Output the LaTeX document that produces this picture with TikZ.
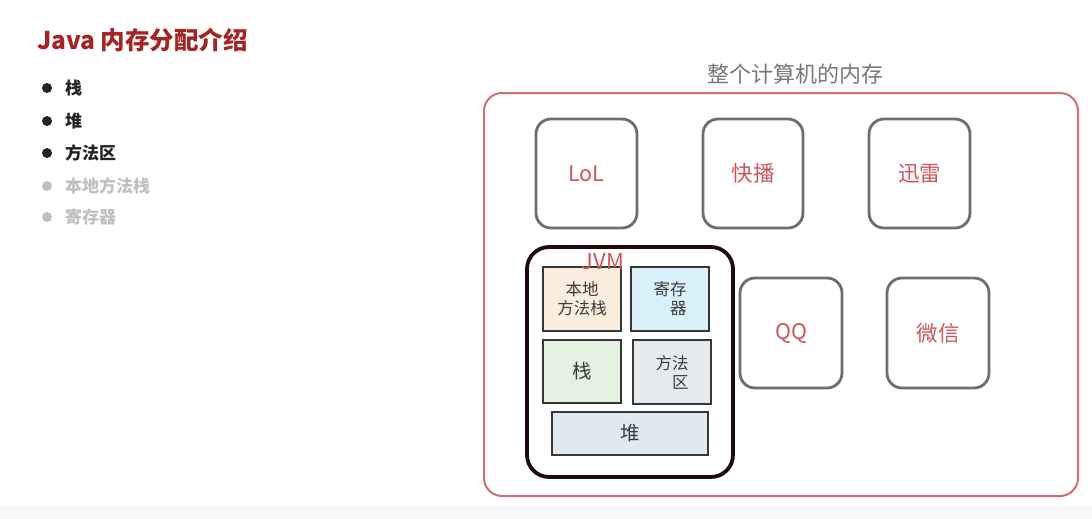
\documentclass[tikz,border=0pt]{standalone}
\usepackage{fontspec}
\setmainfont{Noto Sans CJK SC}
\begin{document}
\begin{tikzpicture}[x=1pt,y=-1pt,
  every node/.style={inner sep=0pt,outer sep=0pt},
  titlered/.style={text=titleC,font=\fontsize{24.5}{28}\selectfont\bfseries},
  bulletdot/.style={circle,minimum size=10pt},
  bullettext/.style={anchor=west,font=\fontsize{17}{20}\selectfont\bfseries},
  appbox/.style={draw=appC,line width=2.8pt,rounded corners=15pt,text=labelC,font=\fontsize{21.5}{24}\selectfont},
  membox/.style={draw=memC,line width=2pt,rounded corners=18pt},
  jvmbox/.style={draw=jvmC,line width=3.8pt,rounded corners=22pt},
  partbox/.style={draw=partC,line width=2pt,text=partT,font=\fontsize{16.5}{19}\selectfont,align=center}
]
\definecolor{titleC}{RGB}{165,35,35}
\definecolor{darkB}{RGB}{35,35,35}
\definecolor{lightB}{RGB}{192,192,192}
\definecolor{headC}{RGB}{120,120,120}
\definecolor{memC}{RGB}{210,110,115}
\definecolor{appC}{RGB}{110,110,110}
\definecolor{labelC}{RGB}{205,85,90}
\definecolor{jvmC}{RGB}{30,10,10}
\definecolor{partC}{RGB}{55,55,55}
\definecolor{partT}{RGB}{60,60,60}
\definecolor{fillA}{RGB}{252,238,222}
\definecolor{fillB}{RGB}{218,240,250}
\definecolor{fillC}{RGB}{228,242,226}
\definecolor{fillD}{RGB}{228,234,238}
\definecolor{fillE}{RGB}{222,233,240}
\definecolor{bandC}{RGB}{248,248,248}
\useasboundingbox (0,0) rectangle (1092,519);
\fill[white] (0,0) rectangle (1092,519);
\fill[bandC] (0,505) rectangle (1092,519);

% title and list
\node[titlered,anchor=west] (title) at (37,40) {Java 内存分配介绍};
\node[bulletdot,fill=darkB] (d1) at (47,88) {};
\node[bulletdot,fill=darkB] (d2) at (47,121) {};
\node[bulletdot,fill=darkB] (d3) at (47,153) {};
\node[bulletdot,fill=lightB] (d4) at (47,186) {};
\node[bulletdot,fill=lightB] (d5) at (47,217) {};
\node[bullettext,text=darkB] (t1) at (65,88) {栈};
\node[bullettext,text=darkB] (t2) at (65,121) {堆};
\node[bullettext,text=darkB] (t3) at (65,153) {方法区};
\node[bullettext,text=lightB] (t4) at (65,186) {本地方法栈};
\node[bullettext,text=lightB] (t5) at (65,217) {寄存器};

% whole memory
\node[text=headC,font=\fontsize{22}{25}\selectfont] (head) at (795,74) {整个计算机的内存};
\draw[membox] (484,93) rectangle (1078,496);
\coordinate (mem) at (781,294);

% apps
\node[appbox,minimum width=101pt,minimum height=109pt] (lol) at (586.5,173.5) {LoL};
\node[appbox,minimum width=100pt,minimum height=109pt] (kb) at (753,173.5) {快播};
\node[appbox,minimum width=101pt,minimum height=109pt] (xl) at (919.5,173.5) {迅雷};
\node[appbox,minimum width=102pt,minimum height=110pt] (qq) at (791,333) {QQ};
\node[appbox,minimum width=102pt,minimum height=110pt] (wx) at (938,333) {微信};

% JVM
\node[jvmbox,minimum width=206pt,minimum height=230pt] (jvm) at (630,362) {};
\node[partbox,fill=fillA,minimum width=78pt,minimum height=64pt] (native) at (582,299) {本地\\方法栈};
\node[partbox,fill=fillB,minimum width=78pt,minimum height=64pt,align=right] (reg) at (670,299) {寄存\\器};
\node[partbox,fill=fillC,minimum width=78pt,minimum height=63pt,font=\fontsize{19.5}{22}\selectfont] (stack) at (582,371.5) {栈};
\node[partbox,fill=fillD,minimum width=78pt,minimum height=64pt,align=right] (method) at (672,372) {方法\\区};
\node[partbox,fill=fillE,minimum width=156pt,minimum height=43pt,font=\fontsize{19.5}{22}\selectfont] (heap) at (630,433.5) {堆};
\node[text=labelC,font=\fontsize{22}{24}\selectfont] (jvmlabel) at (603,262) {JVM};
\end{tikzpicture}
\end{document}
